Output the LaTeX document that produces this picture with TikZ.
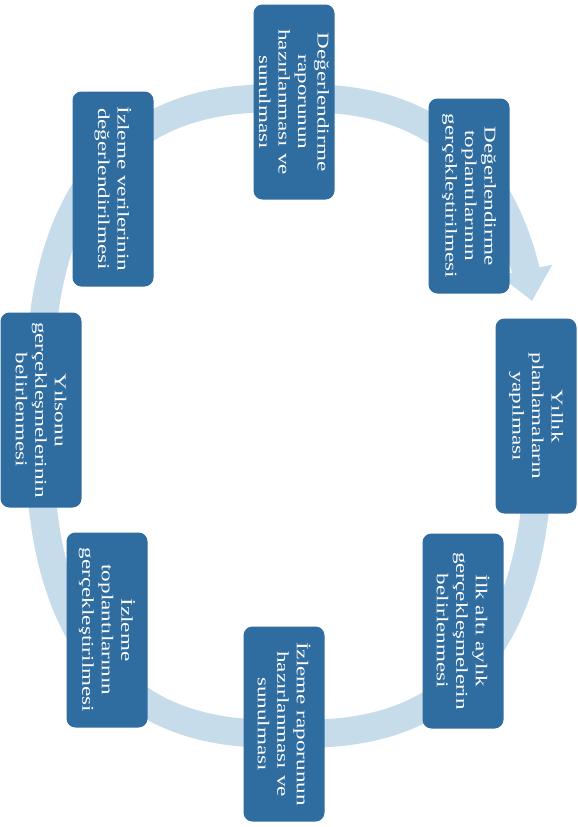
\documentclass[tikz,border=0pt]{standalone}
\usepackage{fontspec}
\newfontfamily\kutufont[FakeStretch=1.4]{Liberation Serif}
\usetikzlibrary{calc}
\definecolor{kutumavi}{RGB}{47,108,160}
\definecolor{halkamavi}{RGB}{198,220,235}
\tikzset{
  asama/.style={fill=kutumavi,rounded corners=9pt,rotate=-90,minimum width=195pt,minimum height=81pt,inner sep=2pt,align=center,text=white,font=\kutufont\fontsize{16.5}{19.5}\selectfont}
}
\begin{document}
\begin{tikzpicture}[x=1pt,y=-1pt,declare function={hx(\t)=\cx+\a*sign(cos(\t))*(abs(cos(\t))+0.0001)^0.77; hy(\t)=\cy+\b*sign(sin(\t))*(abs(sin(\t))+0.0001)^0.77;}]
		\def\cx{289}
		\def\cy{416}
		\def\a{250}
		\def\b{318}
		\useasboundingbox (0,0) rectangle (578,827);
		\fill[white] (0,0) rectangle (578,827);
		\draw[halkamavi,line width=28pt,samples=240,domain=-10:339.5] plot ({hx(\x)},{hy(\x)});
		\coordinate (taban) at ({hx(338.7)},{hy(338.7)});
		\coordinate (uc) at ({hx(344.5)},{hy(344.5)});
		\fill[halkamavi] ($(taban)!27pt!90:(uc)$) -- (uc) -- ($(taban)!27pt!-90:(uc)$) -- cycle;
		\node[asama] (rapor) at (294,102) {Değerlendirme\\raporunun\\hazırlanması ve\\sunulması};
		\node[asama] (toplanti) at (469,196) {Değerlendirme\\toplantılarının\\gerçekleştirilmesi};
		\node[asama] (planlama) at (536,416) {Yıllık\\planlamaların\\yapılması};
		\node[asama] (altiay) at (463,631) {İlk altı aylık\\gerçekleşmelerin\\belirlenmesi};
		\node[asama] (izlemerapor) at (284,724) {İzleme raporunun\\hazırlanması ve\\sunulması};
		\node[asama] (izlemetop) at (107,630) {İzleme\\toplantılarının\\gerçekleştirilmesi};
		\node[asama] (yilsonu) at (41,410) {Yılsonu\\gerçekleşmelerinin\\belirlenmesi};
		\node[asama] (veri) at (113,189) {İzleme verilerinin\\değerlendirilmesi};
\end{tikzpicture}
\end{document}
